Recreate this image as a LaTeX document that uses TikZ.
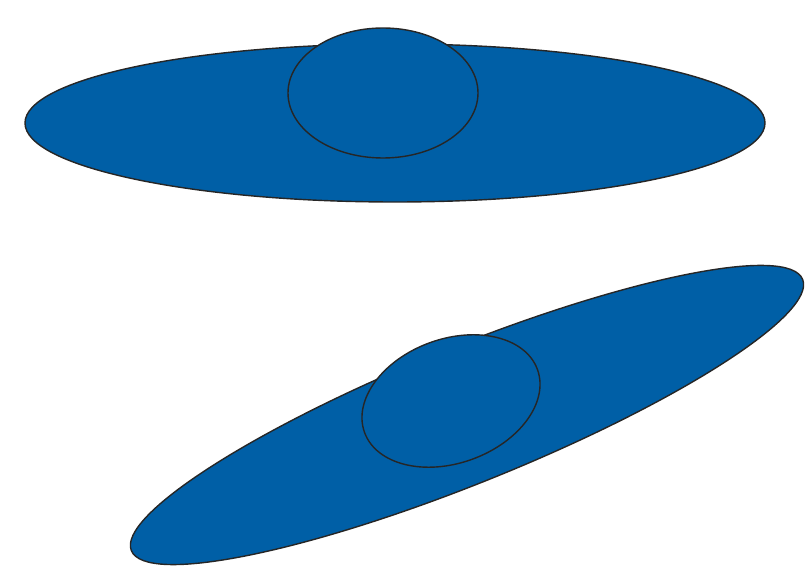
\documentclass[tikz,border=0pt]{standalone}
\usepackage{tikz}
\definecolor{cellblue}{RGB}{0,95,166}

\tikzset{cell/.style={fill=cellblue,draw=black!85,line width=1pt}}

\begin{document}
\begin{tikzpicture}[x=0.025cm,y=-0.025cm]
    \useasboundingbox (0,0) rectangle (805,570);
    % flat cell
    \draw[cell] (395,123) ellipse (370 and 79);
    \draw[cell] (383,93) ellipse (95 and 65);
    % tilted cell
    \draw[cell,rotate around={22:(467,415)}] (467,415) ellipse (362 and 68);
    \draw[cell,rotate around={20:(451,401)}] (451,401) ellipse (92 and 62);
\end{tikzpicture}
\end{document}
